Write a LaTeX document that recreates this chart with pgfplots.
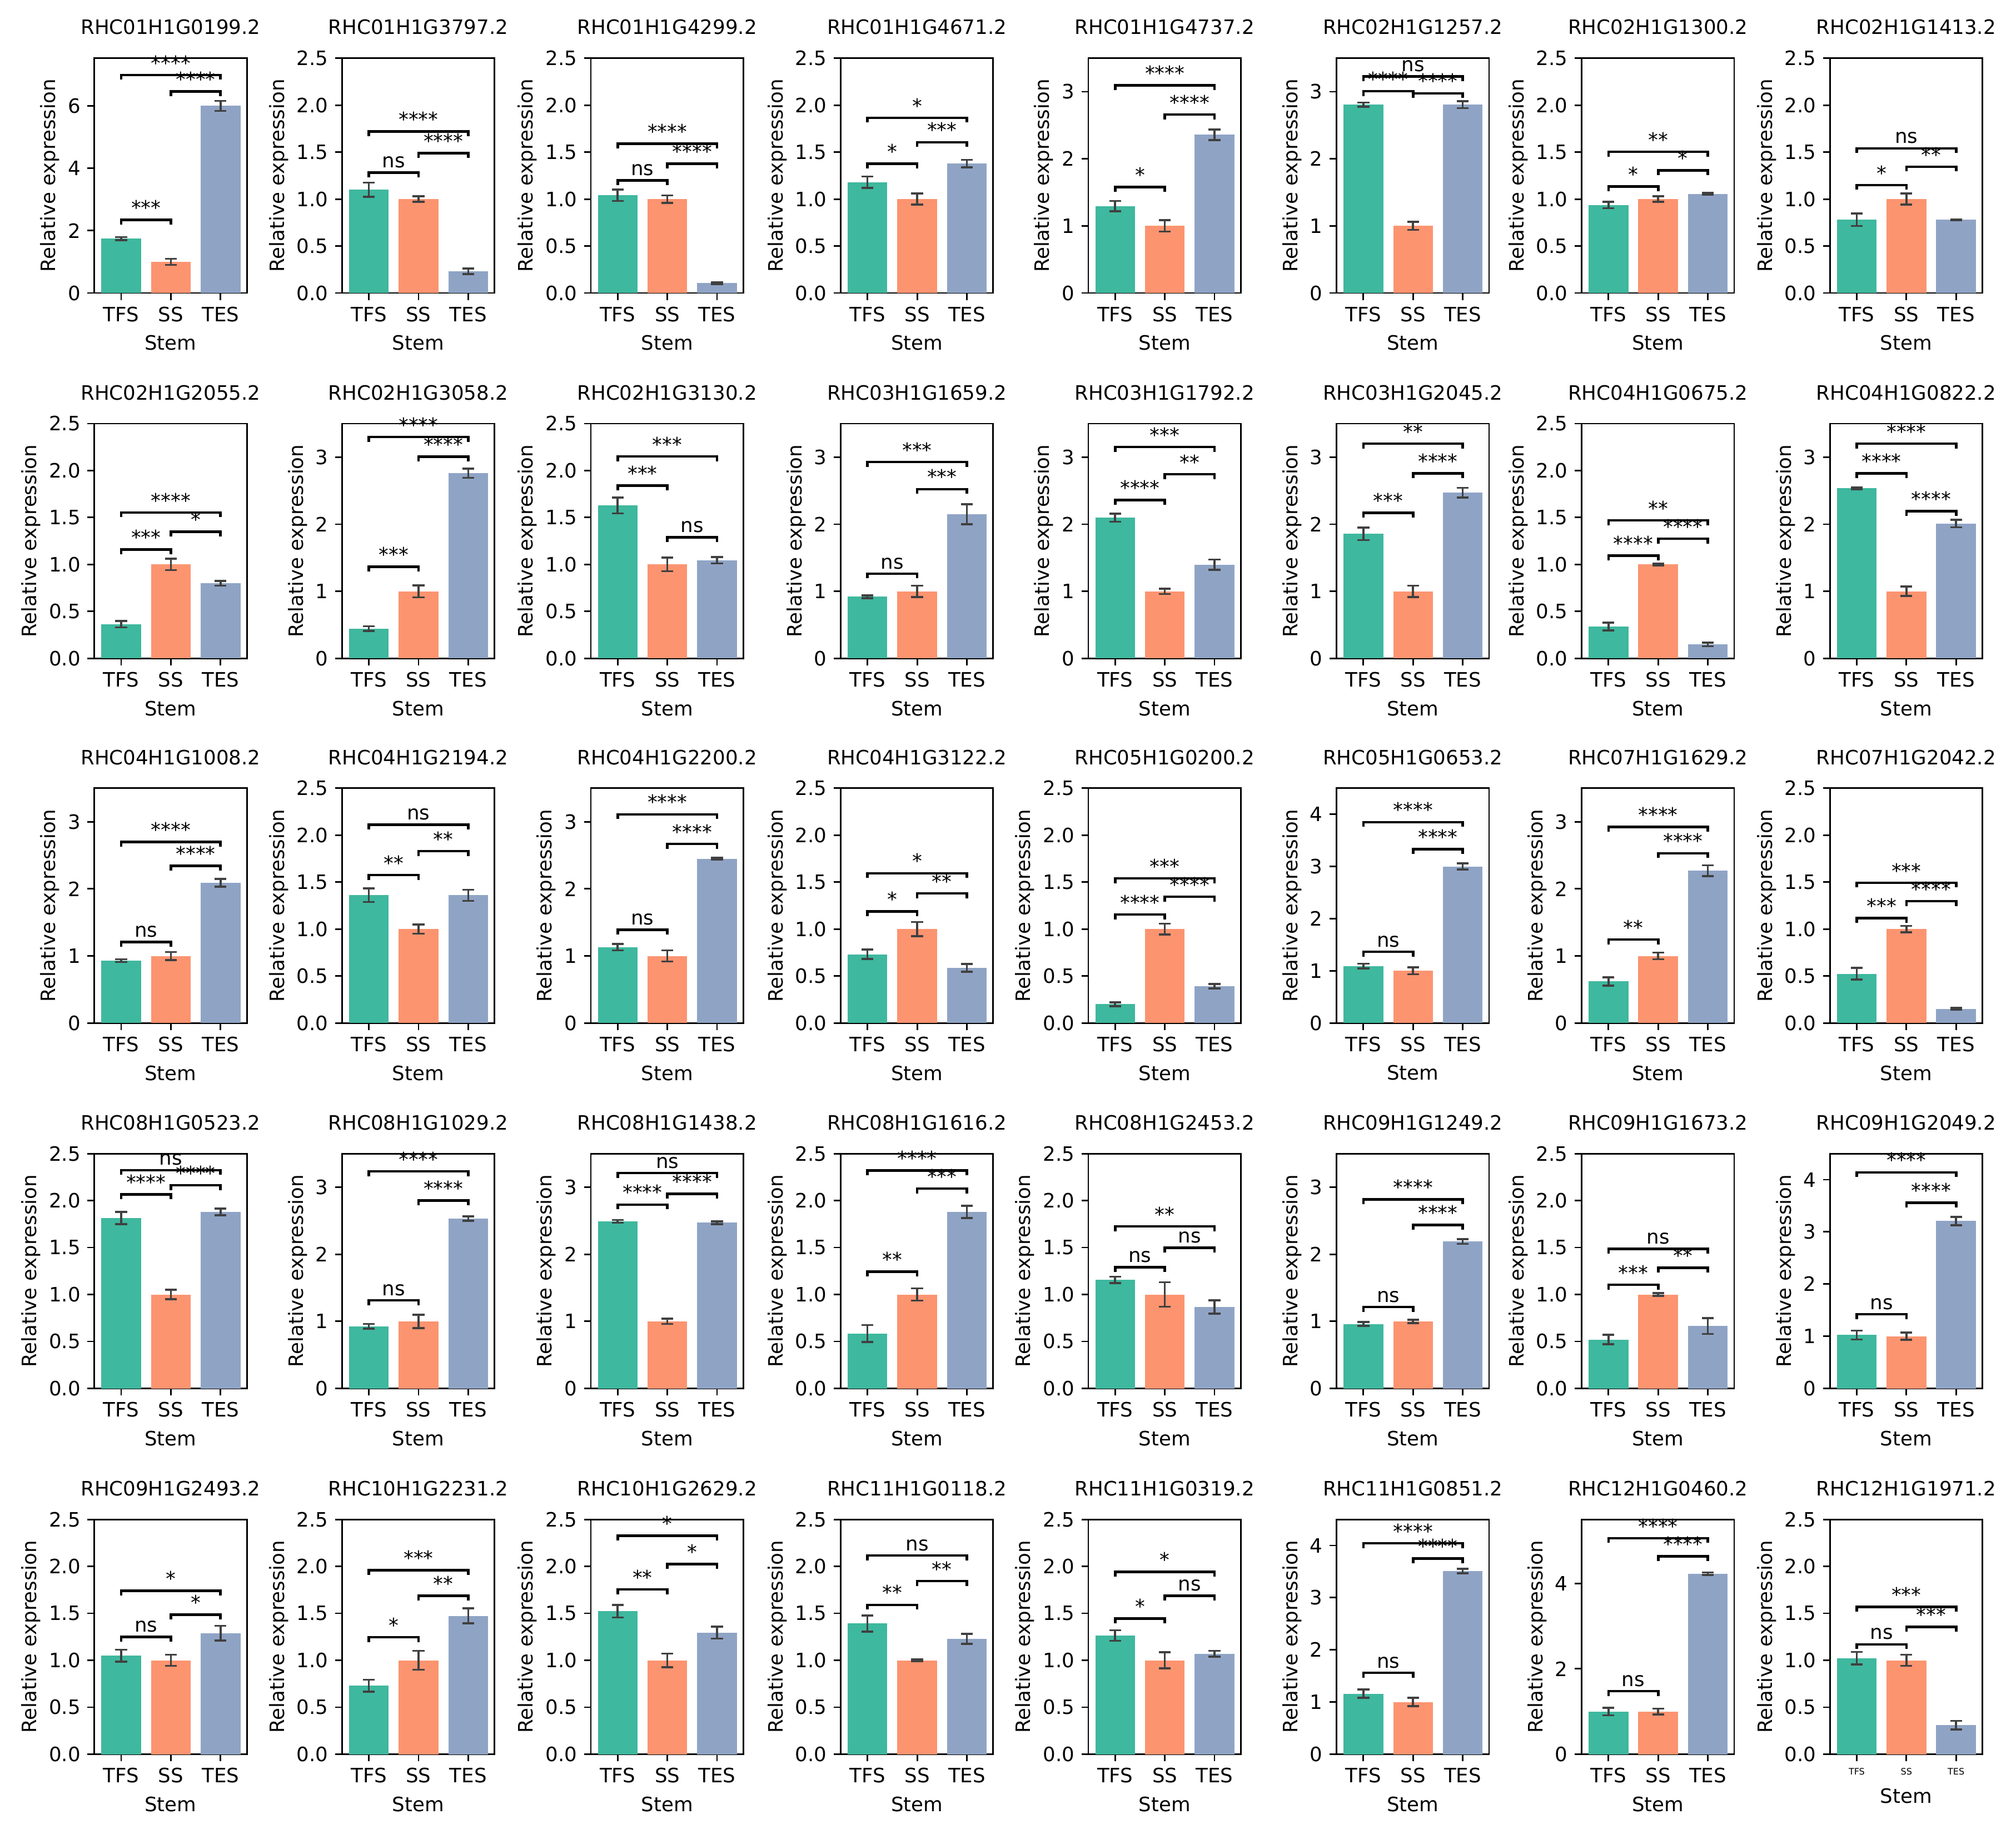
\documentclass[border=0pt]{standalone}
\usepackage{fontspec}
\setmainfont{DejaVu Sans}
\usepackage{pgfplots}
\pgfplotsset{compat=1.18}
\definecolor{cA}{HTML}{3EB89E}
\definecolor{cB}{HTML}{FC9470}
\definecolor{cC}{HTML}{8FA4C5}
\definecolor{errc}{HTML}{404040}
\tikzset{brk/.style={line width=1.3pt, black, line join=miter},
  sig/.style={anchor=base, yshift=2.5pt, inner sep=0pt, font=\normalsize}}
\newcommand{\brA}[2]{\draw[brk] (axis cs:0,#1) ++(0pt,-2.4pt) -- (axis cs:0,#1) -- (axis cs:1,#1) -- ++(0pt,-2.4pt);
  \node[sig] at (axis cs:0.5,#1) {#2};}
\newcommand{\brB}[2]{\draw[brk] (axis cs:1,#1) ++(0pt,-2.4pt) -- (axis cs:1,#1) -- (axis cs:2,#1) -- ++(0pt,-2.4pt);
  \node[sig] at (axis cs:1.5,#1) {#2};}
\newcommand{\brC}[2]{\draw[brk] (axis cs:0,#1) ++(0pt,-2.4pt) -- (axis cs:0,#1) -- (axis cs:2,#1) -- ++(0pt,-2.4pt);
  \node[sig] at (axis cs:1,#1) {#2};}
\pgfplotsset{
  P/.style={scale only axis, width=77.1pt, height=118.7pt, anchor=north west,
    xmin=-0.54, xmax=2.53, ymin=0, clip=false,
    xtick={0,1,2}, xticklabels={TFS,SS,TES},
    tick align=outside, xtick pos=left, ytick pos=left,
    major tick length=3.5pt,
    every tick/.style={black, line width=0.8pt},
    axis line style={line width=0.8pt},
    title style={anchor=base, yshift=6pt},
    ylabel style={inner sep=0.7pt},
    xlabel={Stem}, ylabel={Relative expression}},
  Bx/.style={ybar, bar width=0.8, bar shift=0pt, fill=#1, draw=none,
    error bars/.cd, y dir=both, y explicit,
    error bar style={draw=errc, line width=1pt},
    error mark options={draw=errc, rotate=90, mark size=3pt, line width=1pt}},
  Ya/.style={ymax=2.5, ytick={0,0.5,1,1.5,2,2.5}, yticklabels={0.0,0.5,1.0,1.5,2.0,2.5}},
  Yb/.style={ymax=3.5, ytick={0,1,2,3}, yticklabels={0,1,2,3}},
  Yc/.style={ymax=4.5, ytick={0,1,2,3,4}, yticklabels={0,1,2,3,4}},
  Yd/.style={ymax=5.5, ytick={0,2,4}, yticklabels={0,2,4}},
  Ye/.style={ymax=7.53, ytick={0,2,4,6}, yticklabels={0,2,4,6}},
}
\begin{document}
\begin{tikzpicture}
\path[use as bounding box] (0pt,0pt) rectangle (1019.2pt,-929.3pt);
% ---------------- Row 1
\begin{axis}[P, Ye, at={(47.7pt,-29.4pt)}, title={RHC01H1G0199.2}]
\addplot[Bx=cA] coordinates {(0,1.74) +- (0,0.05)};
\addplot[Bx=cB] coordinates {(1,1.0) +- (0,0.10)};
\addplot[Bx=cC] coordinates {(2,6.0) +- (0,0.16)};
\brA{2.35}{***}\brB{6.46}{****}\brC{6.99}{****}
\end{axis}
\begin{axis}[P, Ya, at={(172.9pt,-29.4pt)}, title={RHC01H1G3797.2}]
\addplot[Bx=cA] coordinates {(0,1.10) +- (0,0.076)};
\addplot[Bx=cB] coordinates {(1,1.0) +- (0,0.03)};
\addplot[Bx=cC] coordinates {(2,0.23) +- (0,0.03)};
\brA{1.28}{ns}\brB{1.487}{****}\brC{1.72}{****}
\end{axis}
\begin{axis}[P, Ya, at={(298.7pt,-29.4pt)}, title={RHC01H1G4299.2}]
\addplot[Bx=cA] coordinates {(0,1.04) +- (0,0.06)};
\addplot[Bx=cB] coordinates {(1,1.0) +- (0,0.04)};
\addplot[Bx=cC] coordinates {(2,0.104) +- (0,0.01)};
\brA{1.20}{ns}\brB{1.378}{****}\brC{1.588}{****}
\end{axis}
\begin{axis}[P, Ya, at={(425.0pt,-29.4pt)}, title={RHC01H1G4671.2}]
\addplot[Bx=cA] coordinates {(0,1.18) +- (0,0.06)};
\addplot[Bx=cB] coordinates {(1,1.0) +- (0,0.06)};
\addplot[Bx=cC] coordinates {(2,1.378) +- (0,0.04)};
\brA{1.378}{*}\brB{1.605}{***}\brC{1.865}{*}
\end{axis}
\begin{axis}[P, Yb, at={(550.2pt,-29.4pt)}, title={RHC01H1G4737.2}]
\addplot[Bx=cA] coordinates {(0,1.294) +- (0,0.076)};
\addplot[Bx=cB] coordinates {(1,1.0) +- (0,0.085)};
\addplot[Bx=cC] coordinates {(2,2.358) +- (0,0.08)};
\brA{1.58}{*}\brB{2.66}{****}\brC{3.095}{****}
\end{axis}
\begin{axis}[P, Yb, at={(675.7pt,-29.4pt)}, title={RHC02H1G1257.2}]
\addplot[Bx=cA] coordinates {(0,2.807) +- (0,0.03)};
\addplot[Bx=cB] coordinates {(1,1.0) +- (0,0.06)};
\addplot[Bx=cC] coordinates {(2,2.807) +- (0,0.05)};
\brA{3.007}{****}\brB{2.976}{****}\brC{3.226}{ns}
\end{axis}
\begin{axis}[P, Ya, at={(799.6pt,-29.4pt)}, title={RHC02H1G1300.2}]
\addplot[Bx=cA] coordinates {(0,0.936) +- (0,0.034)};
\addplot[Bx=cB] coordinates {(1,1.0) +- (0,0.03)};
\addplot[Bx=cC] coordinates {(2,1.055) +- (0,0.01)};
\brA{1.134}{*}\brB{1.305}{*}\brC{1.503}{**}
\end{axis}
\begin{axis}[P, Ya, at={(925.1pt,-29.4pt)}, title={RHC02H1G1413.2}]
\addplot[Bx=cA] coordinates {(0,0.78) +- (0,0.066)};
\addplot[Bx=cB] coordinates {(1,1.0) +- (0,0.06)};
\addplot[Bx=cC] coordinates {(2,0.78) +- (0,0.005)};
\brA{1.149}{*}\brB{1.344}{**}\brC{1.54}{ns}
\end{axis}
% ---------------- Row 2
\begin{axis}[P, Ya, at={(47.7pt,-214.1pt)}, title={RHC02H1G2055.2}]
\addplot[Bx=cA] coordinates {(0,0.364) +- (0,0.033)};
\addplot[Bx=cB] coordinates {(1,1.0) +- (0,0.06)};
\addplot[Bx=cC] coordinates {(2,0.80) +- (0,0.025)};
\brA{1.16}{***}\brB{1.35}{*}\brC{1.553}{****}
\end{axis}
\begin{axis}[P, Yb, at={(172.9pt,-214.1pt)}, title={RHC02H1G3058.2}]
\addplot[Bx=cA] coordinates {(0,0.443) +- (0,0.035)};
\addplot[Bx=cB] coordinates {(1,1.0) +- (0,0.09)};
\addplot[Bx=cC] coordinates {(2,2.76) +- (0,0.068)};
\brA{1.365}{***}\brB{3.006}{****}\brC{3.30}{****}
\end{axis}
\begin{axis}[P, Ya, at={(298.7pt,-214.1pt)}, title={RHC02H1G3130.2}]
\addplot[Bx=cA] coordinates {(0,1.628) +- (0,0.083)};
\addplot[Bx=cB] coordinates {(1,1.0) +- (0,0.073)};
\addplot[Bx=cC] coordinates {(2,1.046) +- (0,0.034)};
\brA{1.84}{***}\brB{1.289}{ns}\brC{2.15}{***}
\end{axis}
\begin{axis}[P, Yb, at={(425.0pt,-214.1pt)}, title={RHC03H1G1659.2}]
\addplot[Bx=cA] coordinates {(0,0.919) +- (0,0.02)};
\addplot[Bx=cB] coordinates {(1,1.0) +- (0,0.085)};
\addplot[Bx=cC] coordinates {(2,2.148) +- (0,0.15)};
\brA{1.263}{ns}\brB{2.523}{***}\brC{2.928}{***}
\end{axis}
\begin{axis}[P, Yb, at={(550.2pt,-214.1pt)}, title={RHC03H1G1792.2}]
\addplot[Bx=cA] coordinates {(0,2.097) +- (0,0.06)};
\addplot[Bx=cB] coordinates {(1,1.0) +- (0,0.04)};
\addplot[Bx=cC] coordinates {(2,1.396) +- (0,0.077)};
\brA{2.36}{****}\brB{2.744}{**}\brC{3.15}{***}
\end{axis}
\begin{axis}[P, Yb, at={(675.7pt,-214.1pt)}, title={RHC03H1G2045.2}]
\addplot[Bx=cA] coordinates {(0,1.856) +- (0,0.094)};
\addplot[Bx=cB] coordinates {(1,1.0) +- (0,0.085)};
\addplot[Bx=cC] coordinates {(2,2.469) +- (0,0.073)};
\brA{2.172}{***}\brB{2.758}{****}\brC{3.2}{**}
\end{axis}
\begin{axis}[P, Ya, at={(799.6pt,-214.1pt)}, title={RHC04H1G0675.2}]
\addplot[Bx=cA] coordinates {(0,0.34) +- (0,0.042)};
\addplot[Bx=cB] coordinates {(1,1.0) +- (0,0.01)};
\addplot[Bx=cC] coordinates {(2,0.148) +- (0,0.02)};
\brA{1.095}{****}\brB{1.274}{****}\brC{1.47}{**}
\end{axis}
\begin{axis}[P, Yb, at={(925.1pt,-214.1pt)}, title={RHC04H1G0822.2}]
\addplot[Bx=cA] coordinates {(0,2.537) +- (0,0.015)};
\addplot[Bx=cB] coordinates {(1,1.0) +- (0,0.07)};
\addplot[Bx=cC] coordinates {(2,2.01) +- (0,0.056)};
\brA{2.76}{****}\brB{2.196}{****}\brC{3.2}{****}
\end{axis}
% ---------------- Row 3
\begin{axis}[P, Yb, at={(47.7pt,-398.4pt)}, title={RHC04H1G1008.2}]
\addplot[Bx=cA] coordinates {(0,0.93) +- (0,0.02)};
\addplot[Bx=cB] coordinates {(1,1.0) +- (0,0.06)};
\addplot[Bx=cC] coordinates {(2,2.09) +- (0,0.056)};
\brA{1.21}{ns}\brB{2.34}{****}\brC{2.70}{****}
\end{axis}
\begin{axis}[P, Ya, at={(172.9pt,-398.4pt)}, title={RHC04H1G2194.2}]
\addplot[Bx=cA] coordinates {(0,1.36) +- (0,0.072)};
\addplot[Bx=cB] coordinates {(1,1.0) +- (0,0.05)};
\addplot[Bx=cC] coordinates {(2,1.36) +- (0,0.06)};
\brA{1.575}{**}\brB{1.83}{**}\brC{2.11}{ns}
\end{axis}
\begin{axis}[P, Yb, at={(298.7pt,-398.4pt)}, title={RHC04H1G2200.2}]
\addplot[Bx=cA] coordinates {(0,1.13) +- (0,0.047)};
\addplot[Bx=cB] coordinates {(1,1.0) +- (0,0.083)};
\addplot[Bx=cC] coordinates {(2,2.45) +- (0,0.015)};
\brA{1.39}{ns}\brB{2.67}{****}\brC{3.11}{****}
\end{axis}
\begin{axis}[P, Ya, at={(425.0pt,-398.4pt)}, title={RHC04H1G3122.2}]
\addplot[Bx=cA] coordinates {(0,0.732) +- (0,0.05)};
\addplot[Bx=cB] coordinates {(1,1.0) +- (0,0.075)};
\addplot[Bx=cC] coordinates {(2,0.587) +- (0,0.04)};
\brA{1.188}{*}\brB{1.38}{**}\brC{1.594}{*}
\end{axis}
\begin{axis}[P, Ya, at={(550.2pt,-398.4pt)}, title={RHC05H1G0200.2}]
\addplot[Bx=cA] coordinates {(0,0.20) +- (0,0.02)};
\addplot[Bx=cB] coordinates {(1,1.0) +- (0,0.057)};
\addplot[Bx=cC] coordinates {(2,0.392) +- (0,0.024)};
\brA{1.155}{****}\brB{1.345}{****}\brC{1.54}{***}
\end{axis}
\begin{axis}[P, Yc, at={(675.7pt,-398.4pt)}, title={RHC05H1G0653.2}]
\addplot[Bx=cA] coordinates {(0,1.09) +- (0,0.045)};
\addplot[Bx=cB] coordinates {(1,1.0) +- (0,0.065)};
\addplot[Bx=cC] coordinates {(2,3.0) +- (0,0.06)};
\brA{1.364}{ns}\brB{3.333}{****}\brC{3.85}{****}
\end{axis}
\begin{axis}[P, Yb, at={(799.6pt,-398.4pt)}, title={RHC07H1G1629.2}]
\addplot[Bx=cA] coordinates {(0,0.62) +- (0,0.063)};
\addplot[Bx=cB] coordinates {(1,1.0) +- (0,0.05)};
\addplot[Bx=cC] coordinates {(2,2.27) +- (0,0.08)};
\brA{1.245}{**}\brB{2.53}{****}\brC{2.92}{****}
\end{axis}
\begin{axis}[P, Ya, at={(925.1pt,-398.4pt)}, title={RHC07H1G2042.2}]
\addplot[Bx=cA] coordinates {(0,0.524) +- (0,0.062)};
\addplot[Bx=cB] coordinates {(1,1.0) +- (0,0.034)};
\addplot[Bx=cC] coordinates {(2,0.152) +- (0,0.01)};
\brA{1.118}{***}\brB{1.297}{****}\brC{1.493}{***}
\end{axis}
% ---------------- Row 4
\begin{axis}[P, Ya, at={(47.7pt,-583.1pt)}, title={RHC08H1G0523.2}]
\addplot[Bx=cA] coordinates {(0,1.814) +- (0,0.064)};
\addplot[Bx=cB] coordinates {(1,1.0) +- (0,0.05)};
\addplot[Bx=cC] coordinates {(2,1.879) +- (0,0.036)};
\brA{2.066}{****}\brB{2.163}{****}\brC{2.324}{ns}
\end{axis}
\begin{axis}[P, Yb, at={(172.9pt,-583.1pt)}, title={RHC08H1G1029.2}]
\addplot[Bx=cA] coordinates {(0,0.927) +- (0,0.034)};
\addplot[Bx=cB] coordinates {(1,1.0) +- (0,0.1)};
\addplot[Bx=cC] coordinates {(2,2.53) +- (0,0.034)};
\brA{1.313}{ns}\brB{2.80}{****}\brC{3.235}{****}
\end{axis}
\begin{axis}[P, Yb, at={(298.7pt,-583.1pt)}, title={RHC08H1G1438.2}]
\addplot[Bx=cA] coordinates {(0,2.49) +- (0,0.02)};
\addplot[Bx=cB] coordinates {(1,1.0) +- (0,0.04)};
\addplot[Bx=cC] coordinates {(2,2.47) +- (0,0.02)};
\brA{2.74}{****}\brB{2.90}{****}\brC{3.21}{ns}
\end{axis}
\begin{axis}[P, Ya, at={(425.0pt,-583.1pt)}, title={RHC08H1G1616.2}]
\addplot[Bx=cA] coordinates {(0,0.585) +- (0,0.09)};
\addplot[Bx=cB] coordinates {(1,1.0) +- (0,0.066)};
\addplot[Bx=cC] coordinates {(2,1.879) +- (0,0.066)};
\brA{1.243}{**}\brB{2.127}{***}\brC{2.32}{****}
\end{axis}
\begin{axis}[P, Ya, at={(550.2pt,-583.1pt)}, title={RHC08H1G2453.2}]
\addplot[Bx=cA] coordinates {(0,1.156) +- (0,0.034)};
\addplot[Bx=cB] coordinates {(1,1.0) +- (0,0.13)};
\addplot[Bx=cC] coordinates {(2,0.867) +- (0,0.07)};
\brA{1.289}{ns}\brB{1.496}{ns}\brC{1.725}{**}
\end{axis}
\begin{axis}[P, Yb, at={(675.7pt,-583.1pt)}, title={RHC09H1G1249.2}]
\addplot[Bx=cA] coordinates {(0,0.96) +- (0,0.03)};
\addplot[Bx=cB] coordinates {(1,1.0) +- (0,0.025)};
\addplot[Bx=cC] coordinates {(2,2.19) +- (0,0.034)};
\brA{1.213}{ns}\brB{2.435}{****}\brC{2.815}{****}
\end{axis}
\begin{axis}[P, Ya, at={(799.6pt,-583.1pt)}, title={RHC09H1G1673.2}]
\addplot[Bx=cA] coordinates {(0,0.52) +- (0,0.05)};
\addplot[Bx=cB] coordinates {(1,1.0) +- (0,0.015)};
\addplot[Bx=cC] coordinates {(2,0.665) +- (0,0.085)};
\brA{1.103}{***}\brB{1.284}{**}\brC{1.484}{ns}
\end{axis}
\begin{axis}[P, Yc, at={(925.1pt,-583.1pt)}, title={RHC09H1G2049.2}]
\addplot[Bx=cA] coordinates {(0,1.023) +- (0,0.087)};
\addplot[Bx=cB] coordinates {(1,1.0) +- (0,0.07)};
\addplot[Bx=cC] coordinates {(2,3.207) +- (0,0.08)};
\brA{1.421}{ns}\brB{3.56}{****}\brC{4.14}{****}
\end{axis}
% ---------------- Row 5
\begin{axis}[P, Ya, at={(47.7pt,-768.0pt)}, title={RHC09H1G2493.2}]
\addplot[Bx=cA] coordinates {(0,1.05) +- (0,0.063)};
\addplot[Bx=cB] coordinates {(1,1.0) +- (0,0.06)};
\addplot[Bx=cC] coordinates {(2,1.29) +- (0,0.078)};
\brA{1.25}{ns}\brB{1.486}{*}\brC{1.74}{*}
\end{axis}
\begin{axis}[P, Ya, at={(172.9pt,-768.0pt)}, title={RHC10H1G2231.2}]
\addplot[Bx=cA] coordinates {(0,0.73) +- (0,0.064)};
\addplot[Bx=cB] coordinates {(1,1.0) +- (0,0.1)};
\addplot[Bx=cC] coordinates {(2,1.473) +- (0,0.08)};
\brA{1.246}{*}\brB{1.686}{**}\brC{1.96}{***}
\end{axis}
\begin{axis}[P, Ya, at={(298.7pt,-768.0pt)}, title={RHC10H1G2629.2}]
\addplot[Bx=cA] coordinates {(0,1.522) +- (0,0.066)};
\addplot[Bx=cB] coordinates {(1,1.0) +- (0,0.072)};
\addplot[Bx=cC] coordinates {(2,1.295) +- (0,0.065)};
\brA{1.754}{**}\brB{2.024}{*}\brC{2.326}{*}
\end{axis}
\begin{axis}[P, Ya, at={(425.0pt,-768.0pt)}, title={RHC11H1G0118.2}]
\addplot[Bx=cA] coordinates {(0,1.391) +- (0,0.086)};
\addplot[Bx=cB] coordinates {(1,1.0) +- (0,0.01)};
\addplot[Bx=cC] coordinates {(2,1.227) +- (0,0.053)};
\brA{1.59}{**}\brB{1.843}{**}\brC{2.116}{ns}
\end{axis}
\begin{axis}[P, Ya, at={(550.2pt,-768.0pt)}, title={RHC11H1G0319.2}]
\addplot[Bx=cA] coordinates {(0,1.263) +- (0,0.056)};
\addplot[Bx=cB] coordinates {(1,1.0) +- (0,0.085)};
\addplot[Bx=cC] coordinates {(2,1.07) +- (0,0.03)};
\brA{1.444}{*}\brB{1.686}{ns}\brC{1.94}{*}
\end{axis}
\begin{axis}[P, Yc, at={(675.7pt,-768.0pt)}, title={RHC11H1G0851.2}]
\addplot[Bx=cA] coordinates {(0,1.16) +- (0,0.08)};
\addplot[Bx=cB] coordinates {(1,1.0) +- (0,0.08)};
\addplot[Bx=cC] coordinates {(2,3.51) +- (0,0.045)};
\brA{1.56}{ns}\brB{3.753}{****}\brC{4.043}{****}
\end{axis}
\begin{axis}[P, Yd, at={(799.6pt,-768.0pt)}, title={RHC12H1G0460.2}]
\addplot[Bx=cA] coordinates {(0,1.0) +- (0,0.09)};
\addplot[Bx=cB] coordinates {(1,1.0) +- (0,0.07)};
\addplot[Bx=cC] coordinates {(2,4.23) +- (0,0.03)};
\brA{1.477}{ns}\brB{4.637}{****}\brC{5.06}{****}
\end{axis}
\begin{axis}[P, Ya, at={(925.1pt,-768.0pt)}, title={RHC12H1G1971.2},
  xticklabel style={font=\fontsize{4.5}{5}\selectfont}]
\addplot[Bx=cA] coordinates {(0,1.022) +- (0,0.066)};
\addplot[Bx=cB] coordinates {(1,1.0) +- (0,0.06)};
\addplot[Bx=cC] coordinates {(2,0.309) +- (0,0.046)};
\brA{1.17}{ns}\brB{1.355}{***}\brC{1.57}{***}
\end{axis}
\end{tikzpicture}
\end{document}
